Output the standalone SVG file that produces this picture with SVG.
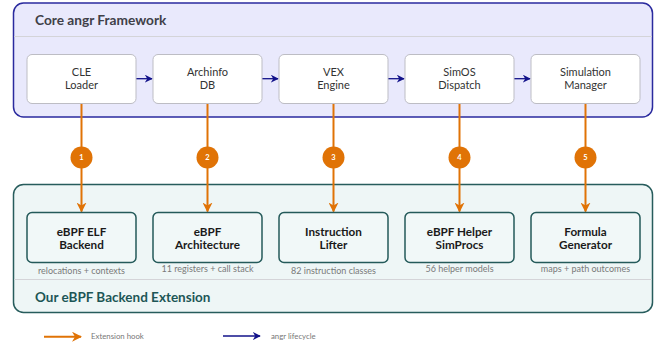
<svg xmlns="http://www.w3.org/2000/svg" width="657" height="347" viewBox="0 0 657 347">
<defs>
<marker id="ah-o" viewBox="0 0 10 10" refX="9" refY="5" markerWidth="10" markerHeight="10" markerUnits="userSpaceOnUse" orient="auto"><path d="M0,0 L10,5 L0,10 L3,5 Z" fill="#e07306"/></marker>
<marker id="ah-b" viewBox="0 0 10 10" refX="9" refY="5" markerWidth="8" markerHeight="8" markerUnits="userSpaceOnUse" orient="auto"><path d="M0,0 L10,5 L0,10 L3,5 Z" fill="#12128a"/></marker>
<style>
.frameA{fill:#e9e9fc;stroke:#2a2a9e;stroke-width:1.5}
.frameB{fill:#eef6f6;stroke:#275c5c;stroke-width:1.5}
.sep{stroke:#d4d4d8;stroke-width:1.2}
.top{fill:#ffffff;stroke:#bdbdc4;stroke-width:1}
.bot{fill:#f1f8f8;stroke:#245a5a;stroke-width:1.5}
.t{font-family:Lato,"Open Sans",sans-serif;text-anchor:middle}
.tn{font-size:11px;fill:#333}
.tb{font-size:11.7px;font-weight:bold;fill:#1a1a1a}
.cap{font-size:9px;fill:#7a7a7a}
.title{font-family:Lato,"Open Sans",sans-serif;font-weight:bold}
.hook{stroke:#e07306;stroke-width:2;fill:none}
.life{stroke:#12128a;stroke-width:1.3;fill:none}
.num{fill:#e07306}
.nt{font-family:Lato,"Open Sans",sans-serif;font-size:7.5px;font-weight:bold;fill:#fff;text-anchor:middle}
.leg{font-family:Lato,"Open Sans",sans-serif;font-size:7.8px;fill:#777}
</style>
</defs>
<g id="core-frame">
<rect class="frameA" x="13.5" y="3" width="639" height="114" rx="10"/>
<line class="sep" x1="14" y1="36.5" x2="652" y2="36.5"/>
<text class="title" x="35" y="25" font-size="13.7" fill="#404048">Core angr Framework</text>
</g>
<g id="ext-frame">
<rect class="frameB" x="13.5" y="184.5" width="639" height="128" rx="10"/>
<line class="sep" x1="14" y1="279.5" x2="652" y2="279.5"/>
<text class="title" x="35" y="301.5" font-size="13.5" fill="#1d5656">Our eBPF Backend Extension</text>
</g>
<g id="connectors">
<line class="life" x1="136" y1="78.7" x2="152" y2="78.7" marker-end="url(#ah-b)"/>
<line class="life" x1="262" y1="78.7" x2="278" y2="78.7" marker-end="url(#ah-b)"/>
<line class="life" x1="388" y1="78.7" x2="404" y2="78.7" marker-end="url(#ah-b)"/>
<line class="life" x1="514" y1="78.7" x2="530" y2="78.7" marker-end="url(#ah-b)"/>
<line class="hook" x1="81.5" y1="103.5" x2="81.5" y2="211.5" marker-end="url(#ah-o)"/>
<line class="hook" x1="207.5" y1="103.5" x2="207.5" y2="211.5" marker-end="url(#ah-o)"/>
<line class="hook" x1="333.5" y1="103.5" x2="333.5" y2="211.5" marker-end="url(#ah-o)"/>
<line class="hook" x1="459.5" y1="103.5" x2="459.5" y2="211.5" marker-end="url(#ah-o)"/>
<line class="hook" x1="585.5" y1="103.5" x2="585.5" y2="211.5" marker-end="url(#ah-o)"/>
<circle class="num" cx="81.5" cy="157.5" r="11"/><text class="nt" x="81.5" y="160.2">1</text>
<circle class="num" cx="207.5" cy="157.5" r="11"/><text class="nt" x="207.5" y="160.2">2</text>
<circle class="num" cx="333.5" cy="157.5" r="11"/><text class="nt" x="333.5" y="160.2">3</text>
<circle class="num" cx="459.5" cy="157.5" r="11"/><text class="nt" x="459.5" y="160.2">4</text>
<circle class="num" cx="585.5" cy="157.5" r="11"/><text class="nt" x="585.5" y="160.2">5</text>
</g>
<g id="cle"><rect class="top" x="27" y="54.5" width="109" height="49" rx="5"/><text class="t tn" x="81.5" y="75.8">CLE</text><text class="t tn" x="81.5" y="89.3">Loader</text></g>
<g id="archinfo"><rect class="top" x="153" y="54.5" width="109" height="49" rx="5"/><text class="t tn" x="207.5" y="75.8">Archinfo</text><text class="t tn" x="207.5" y="89.3">DB</text></g>
<g id="vex"><rect class="top" x="279" y="54.5" width="109" height="49" rx="5"/><text class="t tn" x="333.5" y="75.8">VEX</text><text class="t tn" x="333.5" y="89.3">Engine</text></g>
<g id="simos"><rect class="top" x="405" y="54.5" width="109" height="49" rx="5"/><text class="t tn" x="459.5" y="75.8">SimOS</text><text class="t tn" x="459.5" y="89.3">Dispatch</text></g>
<g id="simmgr"><rect class="top" x="531" y="54.5" width="109" height="49" rx="5"/><text class="t tn" x="585.5" y="75.8">Simulation</text><text class="t tn" x="585.5" y="89.3">Manager</text></g>
<g id="elf"><rect class="bot" x="27" y="212.5" width="109" height="50" rx="5"/><text class="t tb" x="81.5" y="235.8">eBPF ELF</text><text class="t tb" x="81.5" y="248.8">Backend</text><text class="t cap" x="81.5" y="274.2">relocations + contexts</text></g>
<g id="arch"><rect class="bot" x="153" y="212.5" width="109" height="50" rx="5"/><text class="t tb" x="207.5" y="235.8">eBPF</text><text class="t tb" x="207.5" y="248.8">Architecture</text><text class="t cap" x="207.5" y="272.2">11 registers + call stack</text></g>
<g id="lifter"><rect class="bot" x="279" y="212.5" width="109" height="50" rx="5"/><text class="t tb" x="333.5" y="235.8">Instruction</text><text class="t tb" x="333.5" y="248.8">Lifter</text><text class="t cap" x="333.5" y="274.2">82 instruction classes</text></g>
<g id="helpers"><rect class="bot" x="405" y="212.5" width="109" height="50" rx="5"/><text class="t tb" x="459.5" y="235.8">eBPF Helper</text><text class="t tb" x="459.5" y="248.8">SimProcs</text><text class="t cap" x="459.5" y="272.2">56 helper models</text></g>
<g id="formula"><rect class="bot" x="531" y="212.5" width="109" height="50" rx="5"/><text class="t tb" x="585.5" y="235.8">Formula</text><text class="t tb" x="585.5" y="248.8">Generator</text><text class="t cap" x="585.5" y="272.2">maps + path outcomes</text></g>
<g id="legend">
<line class="hook" x1="44" y1="336.7" x2="81" y2="336.7" marker-end="url(#ah-o)"/>
<text class="leg" x="91" y="339.4">Extension hook</text>
<line class="life" x1="223" y1="336" x2="260" y2="336" marker-end="url(#ah-b)"/>
<text class="leg" x="271" y="338.8">angr lifecycle</text>
</g>
</svg>
